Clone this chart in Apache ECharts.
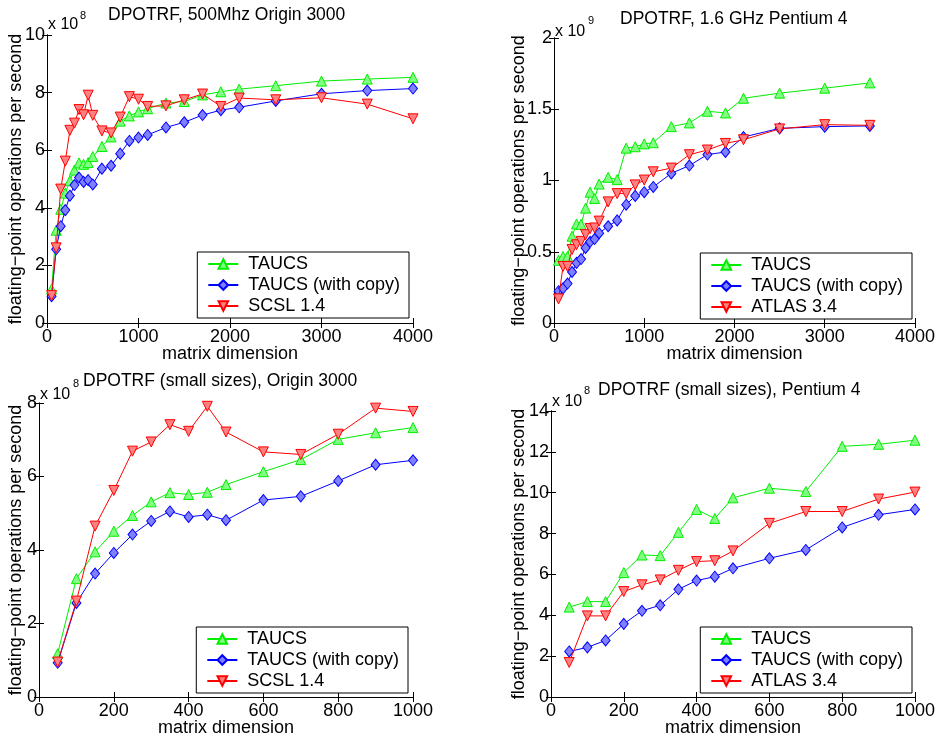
<!DOCTYPE html>
<html>
<head>
<meta charset="utf-8">
<script src="https://cdn.jsdelivr.net/npm/echarts@6/dist/echarts.min.js"></script>
<style>html,body{margin:0;padding:0;background:#fff;}#c{width:938px;height:738px;}</style>
</head>
<body>
<div id="c"></div>
<script>
// ---- data (y values in units of 1e8 flop/s) ----
const smallSizes = [50,100,150,200,250,300,350,400,450,500,600,700,800,900,1000];
const originLargeSizes = [1100,1300,1500,1700,1900,2100,2500,3000,3500,4000];
const pentiumLargeSizes = [1100,1300,1500,1700,1900,2100,2500,3000,3500];

const originTaucsSmall = [1.18,3.22,3.95,4.51,4.94,5.31,5.56,5.51,5.57,5.78,6.13,6.46,7.01,7.19,7.33];
const originCopySmall  = [0.93,2.56,3.36,3.92,4.42,4.79,5.05,4.90,4.96,4.81,5.36,5.46,5.88,6.32,6.44];
const originScslSmall  = [0.95,2.61,4.65,5.62,6.69,6.94,7.41,7.23,7.91,7.21,6.67,6.60,7.15,7.86,7.77];
const originTaucsLarge = [7.44,7.64,7.69,7.92,8.03,8.12,8.24,8.40,8.47,8.53];
const originCopyLarge  = [6.53,6.79,6.97,7.22,7.39,7.49,7.71,7.96,8.07,8.14];
const originScslLarge  = [7.52,7.54,7.75,7.95,7.52,7.81,7.75,7.82,7.60,7.09];

const pentiumTaucsSmall = [4.40,4.67,4.67,6.09,6.95,6.92,8.06,9.18,8.74,9.75,10.22,10.06,12.27,12.37,12.57];
const pentiumCopySmall  = [2.23,2.43,2.77,3.58,4.22,4.49,5.27,5.70,5.89,6.30,6.79,7.20,8.30,8.92,9.18];
const pentiumAtlasSmall = [1.69,3.97,3.97,5.16,5.49,5.73,6.20,6.63,6.67,7.15,8.50,9.08,9.08,9.69,10.03];
const pentiumTaucsLarge = [12.65,13.78,14.04,14.86,14.74,15.77,16.13,16.48,16.85];
const pentiumCopyLarge  = [9.55,10.50,11.05,11.82,12.00,13.05,13.66,13.78,13.83];
const pentiumAtlasLarge = [10.61,10.87,11.81,12.14,12.60,12.86,13.62,13.92,13.87];

const names = ['TAUCS','TAUCS (with copy)'];
const originLib = 'SCSL 1.4';
const pentiumLib = 'ATLAS 3.4';
const titles = ['DPOTRF, 500Mhz Origin 3000','DPOTRF, 1.6 GHz Pentium 4','DPOTRF (small sizes), Origin 3000','DPOTRF (small sizes), Pentium 4'];
const exponents = ['8','9','8','8'];

// ---- helpers ----
const FONT = 'Liberation Sans, Arial, Helvetica, sans-serif';
function zip(xs, ys, scale) { return xs.map((x, i) => [x, ys[i] * scale]); }

const grids = [
  {left: 47, top: 35, width: 366, height: 288},
  {left: 554, top: 38, width: 362, height: 285},
  {left: 39, top: 403, width: 374, height: 294},
  {left: 551, top: 411, width: 365, height: 286}
];
const axisCfg = [
  {xmax: 4000, xint: 1000, ymax: 10, yint: 2, yGap: 22},
  {xmax: 4000, xint: 1000, ymax: 2, yint: 0.5, yGap: 26},
  {xmax: 1000, xint: 200, ymax: 8, yint: 2, yGap: 14},
  {xmax: 1000, xint: 200, ymax: 14, yint: 2, yGap: 23}
];

const plain = v => String(v);
const xAxis = [], yAxis = [];
axisCfg.forEach((a, g) => {
  const line = {show: true, lineStyle: {color: '#000', width: 1}};
  const tick = {show: true, inside: true, length: 5, lineStyle: {color: '#000'}};
  xAxis.push({type: 'value', gridIndex: g, min: 0, max: a.xmax, interval: a.xint, position: 'bottom',
    axisLine: line, axisTick: tick, splitLine: {show: false},
    axisLabel: {color: '#000', fontSize: 18, fontFamily: FONT, margin: 5, formatter: plain, showMinLabel: true, showMaxLabel: true},
    name: 'matrix dimension', nameLocation: 'middle', nameGap: 22, nameMoveOverlap: false,
    nameTextStyle: {color: '#000', fontSize: 18, fontFamily: FONT}});
  xAxis.push({type: 'value', gridIndex: g, min: 0, max: a.xmax, interval: a.xint, position: 'top',
    axisLine: line, axisTick: tick, splitLine: {show: false}, axisLabel: {show: false}});
  yAxis.push({type: 'value', gridIndex: g, min: 0, max: a.ymax, interval: a.yint, position: 'left',
    axisLine: line, axisTick: tick, splitLine: {show: false},
    axisLabel: {color: '#000', fontSize: 18, fontFamily: FONT, margin: 2, formatter: plain, showMinLabel: true, showMaxLabel: true},
    name: 'floating\u2212point operations per second', nameLocation: 'middle', nameGap: a.yGap, nameRotate: 90,
    nameMoveOverlap: false,
    nameTextStyle: {color: '#000', fontSize: 18, fontFamily: FONT, verticalAlign: 'bottom'}});
  yAxis.push({type: 'value', gridIndex: g, min: 0, max: a.ymax, interval: a.yint, position: 'right',
    axisLine: line, axisTick: tick, splitLine: {show: false}, axisLabel: {show: false}});
});

const styles = [
  {color: '#00ee00', fill: '#80ff80', symbol: 'triangle'},
  {color: '#0000ff', fill: '#8080ff', symbol: 'diamond'},
  {color: '#ff0000', fill: '#ff8080', symbol: 'path://M0,0L10,0L5,9Z'}
];
function mk(name, data, g, k) {
  const s = styles[k];
  return {type: 'line', name: name, data: data, xAxisIndex: 2 * g, yAxisIndex: 2 * g,
    symbol: s.symbol, symbolSize: k === 1 ? [9, 11] : 10, showSymbol: true, animation: false,
    lineStyle: {color: s.color, width: 1}, itemStyle: {color: s.fill, borderColor: s.color, borderWidth: 1},
    color: s.color, z: 3 + k};
}
const originT = smallSizes.concat(originLargeSizes);
const pentiumT = smallSizes.concat(pentiumLargeSizes);
const series = [
  mk(names[0], zip(originT, originTaucsSmall.concat(originTaucsLarge), 1), 0, 0),
  mk(names[1], zip(originT, originCopySmall.concat(originCopyLarge), 1), 0, 1),
  mk(originLib, zip(originT, originScslSmall.concat(originScslLarge), 1), 0, 2),
  mk(names[0], zip(pentiumT, pentiumTaucsSmall.concat(pentiumTaucsLarge), 0.1), 1, 0),
  mk(names[1], zip(pentiumT, pentiumCopySmall.concat(pentiumCopyLarge), 0.1), 1, 1),
  mk(pentiumLib, zip(pentiumT, pentiumAtlasSmall.concat(pentiumAtlasLarge), 0.1), 1, 2),
  mk(names[0], zip(smallSizes, originTaucsSmall, 1), 2, 0),
  mk(names[1], zip(smallSizes, originCopySmall, 1), 2, 1),
  mk(originLib, zip(smallSizes, originScslSmall, 1), 2, 2),
  mk(names[0], zip(smallSizes, pentiumTaucsSmall, 1), 3, 0),
  mk(names[1], zip(smallSizes, pentiumCopySmall, 1), 3, 1),
  mk(pentiumLib, zip(smallSizes, pentiumAtlasSmall, 1), 3, 2)
];

const legendPos = [
  {right: 529, bottom: 420, lib: originLib},
  {right: 26, bottom: 419, lib: pentiumLib},
  {right: 530, bottom: 45, lib: originLib},
  {right: 26, bottom: 45, lib: pentiumLib}
];
const legend = legendPos.map(p => ({
  orient: 'vertical', right: p.right, bottom: p.bottom, data: [names[0], names[1], p.lib],
  backgroundColor: '#fff', borderColor: '#000', borderWidth: 1, borderRadius: 0,
  padding: [3, 9, 3, 10], itemWidth: 30, itemHeight: 12, itemGap: 3, selectedMode: false,
  textStyle: {color: '#000', fontSize: 18, fontFamily: FONT, padding: [0, 0, 0, 5]}
}));

const titlePos = [
  {left: 108, top: 6, xl: 48, xt: 17, el: 80, et: 10},
  {left: 620, top: 10, xl: 555, xt: 24, el: 588, et: 15},
  {left: 83, top: 372, xl: 40, xt: 387, el: 73, et: 378},
  {left: 598, top: 381, xl: 552, xt: 394, el: 584, et: 385}
];
const title = [];
titlePos.forEach((p, i) => {
  title.push({text: titles[i], left: p.left, top: p.top, padding: 0,
    textStyle: {color: '#000', fontSize: 17.5, fontWeight: 'normal', fontFamily: FONT}});
  title.push({text: 'x 10', left: p.xl, top: p.xt, padding: 0,
    textStyle: {color: '#000', fontSize: 16, fontWeight: 'normal', fontFamily: FONT}});
  title.push({text: exponents[i], left: p.el, top: p.et, padding: 0,
    textStyle: {color: '#000', fontSize: 11, fontWeight: 'normal', fontFamily: FONT}});
});

const chart = echarts.init(document.getElementById('c'), null, {renderer: 'canvas'});
chart.setOption({
  backgroundColor: '#fff', animation: false,
  title: title, grid: grids, xAxis: xAxis, yAxis: yAxis, legend: legend, series: series
});
</script>
</body>
</html>
